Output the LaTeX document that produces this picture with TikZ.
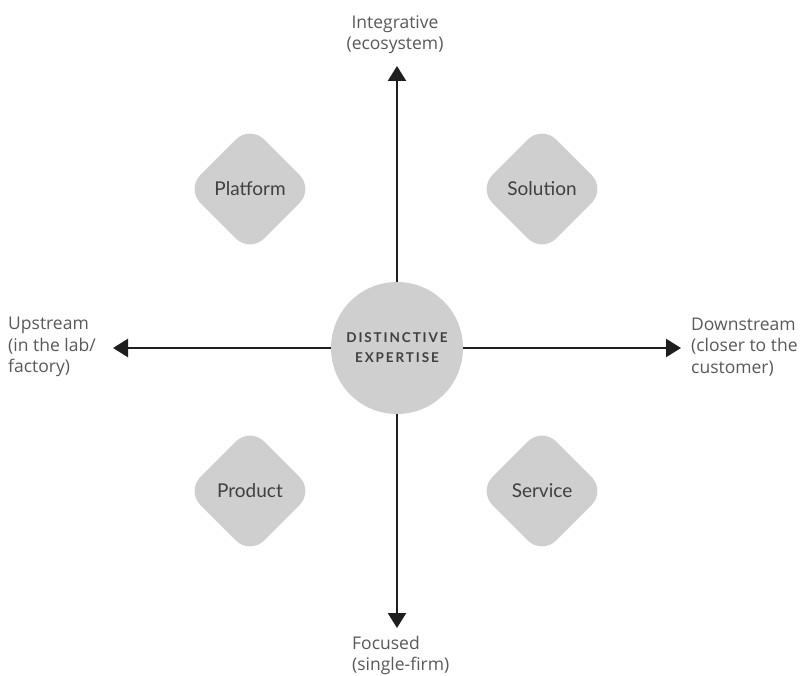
\documentclass[tikz,border=0pt]{standalone}
\usepackage{fontspec}
\setmainfont{Open Sans}
\newfontfamily\modelfont{Lato}
\newfontfamily\capsfont[LetterSpace=14]{Lato Bold}
\usetikzlibrary{arrows.meta,shapes.geometric}
\definecolor{shapegray}{HTML}{CFCFCF}
\definecolor{inktext}{HTML}{404040}
\definecolor{labeltext}{HTML}{595959}
\definecolor{axisline}{HTML}{1E1E1E}
\begin{document}
\begin{tikzpicture}[x=1pt,y=-1pt,
  axis/.style={draw=axisline,line width=2.5pt,-{Triangle[length=15pt,width=18pt]}},
  hub/.style={circle,fill=shapegray,minimum size=132pt,inner sep=0pt,text=inktext,align=center,font=\capsfont\fontsize{13.5}{20}\selectfont},
  model/.style={text=inktext,font=\modelfont\fontsize{19}{21}\selectfont},
  endlabel/.style={text=labeltext,font=\fontsize{17.5}{21.5}\selectfont,inner sep=0pt}
]
\useasboundingbox (0,0) rectangle (806,676);
\fill[white] (0,0) rectangle (806,676);

% four business models as rounded diamonds
\foreach \nm/\px/\py/\txt in {plat/250/189/Platform, sol/542/189/Solution, prod/250/491/Product, serv/542/491/Service}{
  \fill[shapegray,rounded corners=20pt,rotate around={45:(\px,\py)}]
    (\px-45,\py-45) rectangle (\px+45,\py+45);
  \node[model] (\nm) at (\px,\py) {\txt};
}

% central hub
\node[hub] (hub) at (397,348) {DISTINCTIVE\\EXPERTISE};

% axis end points
\coordinate (top) at (397,66);
\coordinate (bot) at (397,628);
\coordinate (lft) at (113,348);
\coordinate (rgt) at (681,348);

\draw[axis] (hub.north) -- (top);
\draw[axis] (hub.south) -- (bot);
\draw[axis] (hub.west) -- (lft);
\draw[axis] (hub.east) -- (rgt);

% axis labels
\node[endlabel,align=center,anchor=south] (ltop) at (395,54) {Integrative\\(ecosystem)};
\node[endlabel,align=left,anchor=north west] (lbot) at (352,636) {Focused\\(single-firm)};
\node[endlabel,align=left,anchor=west] (llft) at (8,347) {Upstream\\(in the lab/\\factory)};
\node[endlabel,align=left,anchor=west] (lrgt) at (691,347) {Downstream\\(closer to the\\customer)};
\end{tikzpicture}
\end{document}
